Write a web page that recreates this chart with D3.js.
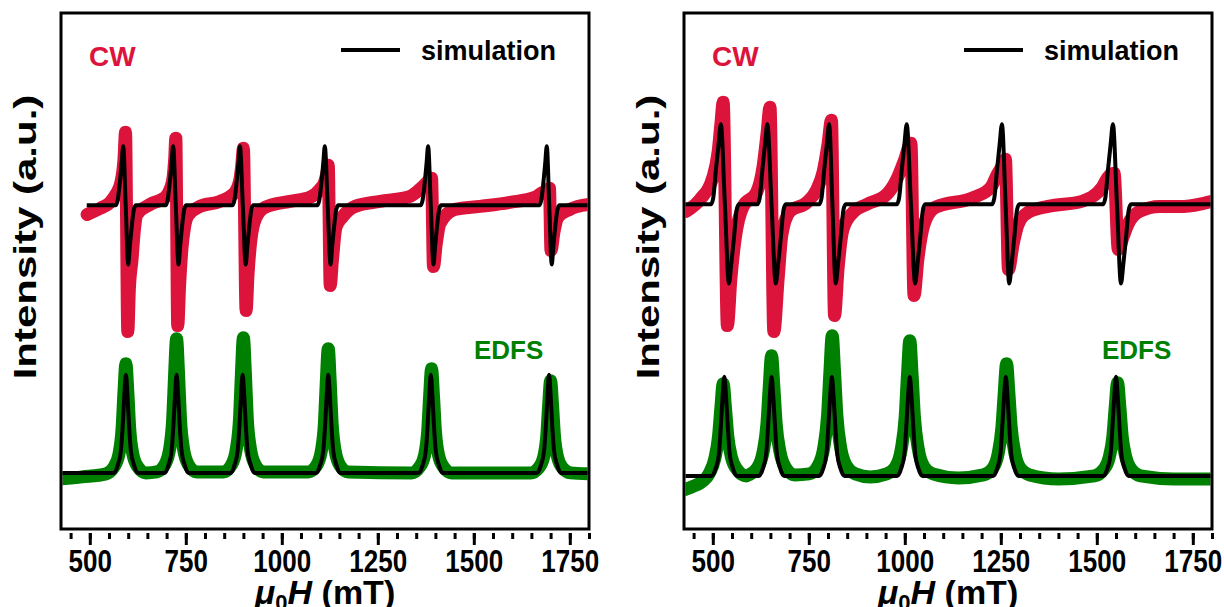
<!DOCTYPE html>
<html>
<head>
<meta charset="utf-8">
<script src="https://cdn.jsdelivr.net/npm/d3@7"></script>
<style>
  body { margin: 0; background: #fff; }
  text { font-family: "Liberation Sans", Arial, sans-serif; font-weight: bold; }
</style>
</head>
<body>
<svg id="chart" width="1224" height="607"></svg>
<script>
// x axis (mT) and intensity range (a.u.)
const xDomain = [425, 1800];
const yDomain = [0, 5.15];
const xTicks = [500, 750, 1000, 1250, 1500, 1750];

// ---- left panel ----
const leftCwData = [[493,3.14],[527,3.20],[553,3.26],[568,3.34],[581,3.46],[589,3.69],[593,3.96],[599,1.97],[603,2.39],[610,2.69],[616,2.98],[623,3.14],[657,3.24],[696,3.31],[709,3.39],[717,3.51],[721,3.69],[724,3.90],[729,2.03],[734,2.44],[740,2.80],[747,3.02],[756,3.13],[787,3.22],[839,3.27],[878,3.36],[891,3.49],[896,3.64],[900,3.80],[907,2.18],[912,2.54],[920,2.90],[933,3.11],[956,3.21],[1021,3.27],[1073,3.31],[1099,3.39],[1112,3.47],[1118,3.56],[1121,3.63],[1126,2.43],[1132,2.69],[1141,3.01],[1157,3.11],[1191,3.22],[1256,3.27],[1334,3.32],[1365,3.41],[1381,3.47],[1390,3.50],[1395,2.62],[1402,2.84],[1412,3.05],[1451,3.19],[1516,3.22],[1594,3.26],[1659,3.31],[1680,3.36],[1691,3.37],[1697,3.40],[1701,2.78],[1709,2.97],[1719,3.11],[1750,3.19],[1800,3.24]];

const leftCwSim = [[492,3.23],
  [567,3.23],[572,3.27],[578,3.45],[583,3.65],[587,3.82],[593.5,3.23],[600,2.64],[604,2.81],[609,3.01],[615,3.19],[620,3.23],
  [697,3.23],[702,3.27],[708,3.45],[713,3.65],[717,3.82],[724,3.23],[731,2.64],[735,2.81],[740,3.01],[746,3.19],[751,3.23],
  [871,3.23],[876,3.27],[882,3.45],[887,3.65],[891,3.82],[898.5,3.23],[906,2.64],[910,2.81],[915,3.01],[921,3.19],[926,3.23],
  [1092,3.23],[1097,3.27],[1103,3.45],[1108,3.65],[1112,3.82],[1119.5,3.23],[1127,2.64],[1131,2.81],[1136,3.01],[1142,3.19],[1147,3.23],
  [1361,3.23],[1366,3.27],[1372,3.45],[1377,3.65],[1381,3.82],[1388,3.23],[1395,2.64],[1399,2.81],[1404,3.01],[1410,3.19],[1415,3.23],
  [1670,3.23],[1675,3.27],[1681,3.45],[1686,3.65],[1690,3.82],[1696.5,3.23],[1703,2.64],[1707,2.81],[1712,3.01],[1718,3.19],[1723,3.23],
  [1800,3.23]];

const leftEdfsData = [[425,0.50],[480,0.52],[542,0.55],[563,0.62],[576,0.75],[584,1.00],[589,1.37],[594,1.65],[599,1.37],[604,1.00],[612,0.75],[625,0.62],[646,0.56],
  [674,0.57],[695,0.64],[708,0.80],[716,1.11],[721,1.56],[726,1.90],[731,1.56],[736,1.11],[744,0.80],[757,0.64],[778,0.57],
  [848,0.57],[869,0.64],[882,0.81],[890,1.11],[895,1.57],[900,1.91],[905,1.57],[910,1.11],[918,0.81],[931,0.64],[952,0.57],
  [1069,0.57],[1090,0.63],[1103,0.78],[1111,1.06],[1116,1.48],[1121,1.80],[1126,1.48],[1131,1.06],[1139,0.78],[1152,0.63],[1173,0.57],
  [1338,0.56],[1359,0.62],[1372,0.74],[1380,0.98],[1385,1.33],[1390,1.60],[1395,1.33],[1400,0.98],[1408,0.74],[1421,0.62],[1442,0.56],
  [1648,0.56],[1669,0.61],[1682,0.72],[1690,0.93],[1695,1.24],[1700,1.48],[1705,1.24],[1710,0.93],[1718,0.72],[1731,0.61],[1752,0.56],
  [1800,0.55]];

const leftEdfsSim = [[425,0.56],
  [563,0.56],[573,0.64],[581,0.78],[586,1.05],[590,1.34],[594,1.54],[598,1.34],[602,1.05],[607,0.78],[615,0.64],[625,0.56],
  [695,0.56],[705,0.64],[713,0.78],[718,1.05],[722,1.34],[726,1.54],[730,1.34],[734,1.05],[739,0.78],[747,0.64],[757,0.56],
  [867,0.56],[877,0.64],[885,0.78],[890,1.05],[894,1.34],[898,1.54],[902,1.34],[906,1.05],[911,0.78],[919,0.64],[929,0.56],
  [1090,0.56],[1100,0.64],[1108,0.78],[1113,1.05],[1117,1.34],[1121,1.54],[1125,1.34],[1129,1.05],[1134,0.78],[1142,0.64],[1152,0.56],
  [1357,0.56],[1367,0.64],[1375,0.78],[1380,1.05],[1384,1.34],[1388,1.54],[1392,1.34],[1396,1.05],[1401,0.78],[1409,0.64],[1419,0.56],
  [1665,0.56],[1675,0.64],[1683,0.78],[1688,1.05],[1692,1.34],[1696,1.54],[1700,1.34],[1704,1.05],[1709,0.78],[1717,0.64],[1727,0.56],
  [1800,0.56]];

// ---- right panel ----
const rightCwData = [[430,3.17],[467,3.29],[501,3.52],[514,3.77],[521,4.04],[527,4.26],[538,2.03],[547,2.49],[558,2.89],[579,3.22],[614,3.36],[631,3.62],[641,3.94],[649,4.21],[659,1.97],[670,2.49],[680,2.94],[701,3.17],[745,3.26],[771,3.39],[787,3.56],[800,3.84],[809,4.08],[817,2.13],[826,2.59],[839,2.99],[865,3.16],[901,3.24],[953,3.34],[979,3.49],[1000,3.69],[1016,3.85],[1024,2.33],[1034,2.69],[1050,3.04],[1079,3.21],[1180,3.31],[1224,3.41],[1241,3.54],[1256,3.64],[1262,3.69],[1270,2.59],[1282,2.84],[1295,3.04],[1321,3.16],[1373,3.22],[1461,3.27],[1514,3.41],[1529,3.51],[1545,3.55],[1556,2.79],[1568,2.91],[1581,3.04],[1611,3.17],[1664,3.22],[1727,3.22],[1800,3.27]];

const rightCwSim = [[425,3.24],
  [495,3.24],[501,3.30],[508,3.58],[515,3.84],[521,4.04],[531.5,3.24],[542,2.45],[548,2.64],[555,2.90],[562,3.18],[568,3.24],
  [616,3.24],[622,3.30],[629,3.58],[636,3.84],[642,4.04],[653,3.24],[664,2.45],[670,2.64],[677,2.90],[684,3.18],[690,3.24],
  [777,3.24],[783,3.30],[790,3.58],[797,3.84],[803,4.04],[811.5,3.24],[820,2.45],[826,2.64],[833,2.90],[840,3.18],[846,3.24],
  [979,3.24],[985,3.30],[992,3.58],[999,3.84],[1005,4.04],[1016,3.24],[1027,2.45],[1033,2.64],[1040,2.90],[1047,3.18],[1053,3.24],
  [1227,3.24],[1233,3.30],[1240,3.58],[1247,3.84],[1253,4.04],[1262.5,3.24],[1272,2.45],[1278,2.64],[1285,2.90],[1292,3.18],[1298,3.24],
  [1516,3.24],[1522,3.30],[1529,3.58],[1536,3.84],[1542,4.04],[1552.5,3.24],[1563,2.45],[1569,2.64],[1576,2.90],[1583,3.18],[1589,3.24],
  [1800,3.24]];

const rightEdfsData = [[425,0.39],[445,0.42],[467,0.46],[490,0.55],[505,0.70],[515,0.93],[521,1.21],[527,1.45],[533,1.21],[539,0.93],[549,0.71],[564,0.59],[587,0.53],
  [593,0.54],[616,0.61],[631,0.77],[641,1.05],[647,1.42],[653,1.73],[659,1.42],[665,1.05],[675,0.77],[690,0.61],[713,0.54],
  [751,0.55],[774,0.63],[789,0.81],[799,1.14],[805,1.57],[811,1.93],[817,1.57],[823,1.14],[833,0.81],[848,0.63],[871,0.55],
  [910,0.52],
  [953,0.55],[976,0.62],[991,0.80],[1001,1.12],[1007,1.54],[1013,1.88],[1019,1.54],[1025,1.12],[1035,0.80],[1050,0.62],[1073,0.55],
  [1140,0.51],
  [1205,0.54],[1228,0.60],[1243,0.75],[1253,1.02],[1259,1.36],[1265,1.65],[1271,1.36],[1277,1.02],[1287,0.75],[1302,0.60],[1325,0.54],
  [1400,0.50],
  [1494,0.53],[1517,0.59],[1532,0.71],[1542,0.93],[1548,1.22],[1554,1.46],[1560,1.22],[1566,0.93],[1576,0.71],[1591,0.59],[1614,0.53],
  [1700,0.50],[1800,0.50]];

const rightEdfsSim = [[425,0.53],
  [497,0.53],[508,0.61],[516,0.75],[521,1.03],[525.5,1.32],[530,1.52],[534.5,1.32],[539,1.03],[544,0.75],[552,0.61],[563,0.53],
  [620,0.53],[631,0.61],[639,0.75],[644,1.03],[648.5,1.32],[653,1.52],[657.5,1.32],[662,1.03],[667,0.75],[675,0.61],[686,0.53],
  [777,0.53],[788,0.61],[796,0.75],[801,1.03],[805.5,1.32],[810,1.52],[814.5,1.32],[819,1.03],[824,0.75],[832,0.61],[843,0.53],
  [980,0.53],[991,0.61],[999,0.75],[1004,1.03],[1008.5,1.32],[1013,1.52],[1017.5,1.32],[1022,1.03],[1027,0.75],[1035,0.61],[1046,0.53],
  [1230,0.53],[1241,0.61],[1249,0.75],[1254,1.03],[1258.5,1.32],[1263,1.52],[1267.5,1.32],[1272,1.03],[1277,0.75],[1285,0.61],[1296,0.53],
  [1517,0.53],[1528,0.61],[1536,0.75],[1541,1.03],[1545.5,1.32],[1550,1.52],[1554.5,1.32],[1559,1.03],[1564,0.75],[1572,0.61],[1583,0.53],
  [1800,0.53]];

const red = "#dc143c";
const green = "#008000";

const svg = d3.select("#chart");
const boxTop = 13, boxBottom = 529;

const panels = [
  { id: "left", x0: 61, x1: 589, titleX: 36, cw: leftCwData, cwSim: leftCwSim, edfs: leftEdfsData, edfsSim: leftEdfsSim, edfsLabel: 413 },
  { id: "right", x0: 684, x1: 1212, titleX: 659, cw: rightCwData, cwSim: rightCwSim, edfs: rightEdfsData, edfsSim: rightEdfsSim, edfsLabel: 418 }
];

panels.forEach((p) => {
  const x = d3.scaleLinear().domain(xDomain).range([p.x0, p.x1]);
  const y = d3.scaleLinear().domain(yDomain).range([boxBottom, boxTop]);

  const g = svg.append("g").attr("id", p.id);

  svg.append("clipPath")
    .attr("id", "clip-" + p.id)
    .append("rect")
    .attr("x", p.x0 + 1.5)
    .attr("y", boxTop + 1.5)
    .attr("width", p.x1 - p.x0 - 3)
    .attr("height", boxBottom - boxTop - 3);

  const plot = g.append("g").attr("clip-path", `url(#clip-${p.id})`);

  const lineGen = d3.line()
    .x((d) => x(d[0]))
    .y((d) => y(d[1]))
    .curve(d3.curveMonotoneX);

  // measured data: thick bands of dots
  plot.append("path").datum(p.cw)
    .attr("fill", "none").attr("stroke", red).attr("stroke-width", 13)
    .attr("stroke-linecap", "round").attr("stroke-linejoin", "round")
    .attr("d", lineGen);

  plot.append("path").datum(p.edfs)
    .attr("fill", "none").attr("stroke", green).attr("stroke-width", 13)
    .attr("stroke-linecap", "round").attr("stroke-linejoin", "round")
    .attr("d", lineGen);

  // simulations
  [p.cwSim, p.edfsSim].forEach((s) => {
    plot.append("path").datum(s)
      .attr("fill", "none").attr("stroke", "#000").attr("stroke-width", 4)
      .attr("stroke-linejoin", "round")
      .attr("d", lineGen);
  });

  // frame
  g.append("rect")
    .attr("x", p.x0).attr("y", boxTop)
    .attr("width", p.x1 - p.x0).attr("height", boxBottom - boxTop)
    .attr("fill", "none").attr("stroke", "#000").attr("stroke-width", 3);

  // minor ticks
  const minorAxis = d3.axisBottom(x).tickValues(d3.range(450, 1801, 50)).tickSize(6).tickFormat("");
  const mg = g.append("g").attr("transform", `translate(0,${boxBottom + 4})`).call(minorAxis);
  mg.select(".domain").remove();
  mg.selectAll("line").attr("stroke-width", 3);

  // major ticks + labels
  const majorAxis = d3.axisBottom(x).tickValues(xTicks).tickSize(12).tickFormat(d3.format("d"));
  const ag = g.append("g").attr("transform", `translate(0,${boxBottom + 4})`).call(majorAxis);
  ag.select(".domain").remove();
  ag.selectAll("line").attr("stroke-width", 3);
  ag.selectAll("text")
    .attr("y", 39).attr("dy", 0)
    .attr("font-size", 31)
    .attr("font-family", "'Liberation Sans', Arial, sans-serif")
    .attr("font-weight", "bold")
    .attr("fill", "#000")
    .attr("transform", "scale(0.84,1)");

  // x title
  const xt = g.append("text")
    .attr("x", (p.x0 + p.x1) / 2).attr("y", 604)
    .attr("text-anchor", "middle").attr("font-size", 34);
  xt.append("tspan").attr("font-style", "italic").text("\u03bc");
  xt.append("tspan").attr("font-size", 22).attr("dy", 6).text("0");
  xt.append("tspan").attr("font-style", "italic").attr("dy", -6).text("H");
  xt.append("tspan").text(" (mT)");

  // y title
  g.append("text")
    .attr("transform", `translate(${p.titleX},237) rotate(-90) scale(1,0.76)`)
    .attr("text-anchor", "middle").attr("font-size", 42)
    .text("Intensity (a.u.)");

  // labels and legend
  g.append("text").attr("x", p.x0 + 28).attr("y", 66)
    .attr("font-size", 28).attr("fill", red).text("CW");

  g.append("line")
    .attr("x1", p.x0 + 280).attr("x2", p.x0 + 339)
    .attr("y1", 50).attr("y2", 50)
    .attr("stroke", "#000").attr("stroke-width", 4);
  g.append("text").attr("x", p.x0 + 360).attr("y", 60)
    .attr("font-size", 27).attr("fill", "#000").text("simulation");

  g.append("text").attr("x", p.x0 + p.edfsLabel).attr("y", 359)
    .attr("font-size", 26).attr("fill", green).text("EDFS");
});
</script>
</body>
</html>
